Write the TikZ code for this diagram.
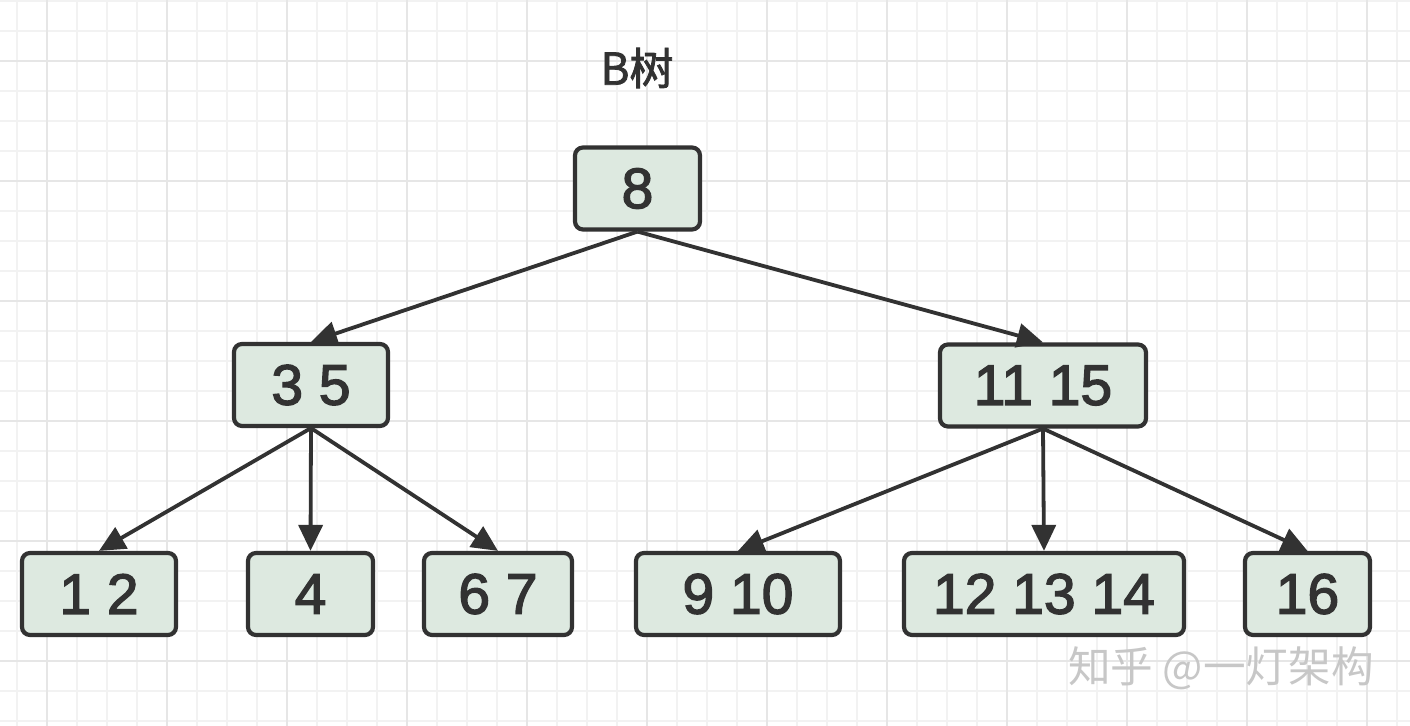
\documentclass[tikz,border=0pt]{standalone}
\usepackage{fontspec}
\setmainfont{Liberation Sans}
\newfontfamily\numfont{Liberation Sans}[FakeBold=2.4]
\newfontfamily\cjk{Noto Sans CJK SC}
\newfontfamily\cjkbold{Noto Sans CJK SC}[FakeBold=1.8]
\usetikzlibrary{arrows.meta}
\definecolor{boxfill}{RGB}{221,233,224}
\definecolor{boxline}{RGB}{50,50,50}
\definecolor{gridminor}{RGB}{242,242,242}
\definecolor{gridmajor}{RGB}{230,230,230}
\begin{document}
\begin{tikzpicture}[x=0.5pt,y=-0.5pt,
  key/.style={rectangle,draw=boxline,fill=boxfill,line width=2.1pt,rounded corners=4pt,
    minimum height=41pt,inner sep=0pt,font=\numfont\fontsize{28.5}{30}\selectfont,text=boxline},
  link/.style={draw=boxline,line width=1.9pt,-{Triangle[length=13pt,width=12pt]}}]
\useasboundingbox (0,0) rectangle (1410,726);
\fill[white] (0,0) rectangle (1410,726);
% grid
\foreach \x in {16.7,46.7,...,1410} \draw[gridminor,line width=1.1pt] (\x,0) -- (\x,726);
\foreach \y in {0.7,30.7,...,726} \draw[gridminor,line width=1.1pt] (0,\y) -- (1410,\y);
\foreach \x in {46.7,166.7,...,1410} \draw[gridmajor,line width=1.1pt] (\x,0) -- (\x,726);
\foreach \y in {60.7,180.7,...,726} \draw[gridmajor,line width=1.1pt] (0,\y) -- (1410,\y);

\coordinate (T) at (637,68);
\coordinate (R) at (637.5,188.5);
\coordinate (L) at (311,385);
\coordinate (M) at (1043,385.5);
\coordinate (A) at (99,594);
\coordinate (B) at (310.5,594);
\coordinate (C) at (498,594);
\coordinate (D) at (738,594);
\coordinate (E) at (1044,594);
\coordinate (F) at (1307.5,594);
\coordinate (W) at (1221,668);

\node[font=\cjkbold\fontsize{22}{24}\selectfont,text=boxline] (T1) at (T) {B树};
\node[key,minimum width=62.5pt] (R1) at (R) {8};
\node[key,minimum width=77pt] (L1) at (L) {3 5};
\node[key,minimum width=103pt] (M1) at (M) {11 15};
\node[key,minimum width=77pt] (A1) at (A) {1 2};
\node[key,minimum width=62.5pt] (B1) at (B) {4};
\node[key,minimum width=74pt] (C1) at (C) {6 7};
\node[key,minimum width=102pt] (D1) at (D) {9 10};
\node[key,minimum width=140pt] (E1) at (E) {12 13 14};
\node[key,minimum width=62.5pt] (F1) at (F) {16};
\node[font=\cjk\fontsize{21.3}{23}\selectfont,text=black!22] (W1) at (W) {知乎 @一灯架构};

\draw[link] (R1.south) -- (L1.north);
\draw[link] (R1.south) -- (M1.north);
\draw[link] (L1.south) -- (A1.north);
\draw[link] (L1.south) -- (B1.north);
\draw[link] (L1.south) -- (C1.north);
\draw[link] (M1.south) -- (D1.north);
\draw[link] (M1.south) -- (E1.north);
\draw[link] (M1.south) -- (F1.north);

\end{tikzpicture}
\end{document}
